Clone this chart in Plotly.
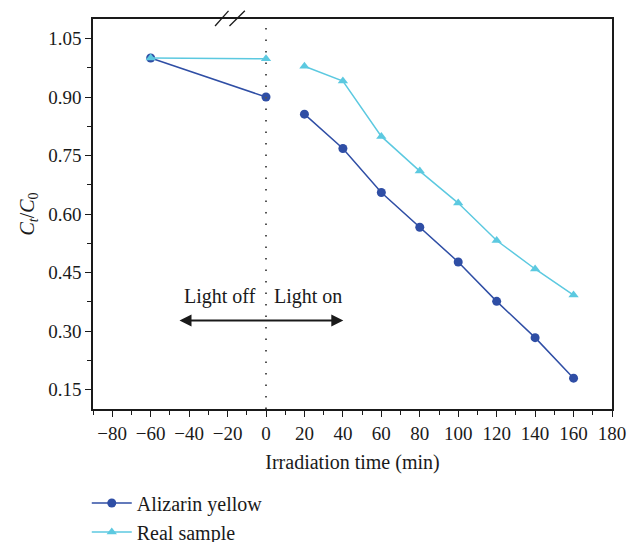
import plotly.graph_objects as go

# Data
dark_time = [-60, 0]
light_time = [20, 40, 60, 80, 100, 120, 140, 160]
alizarin_dark = [1.00, 0.90]
alizarin_light = [0.856, 0.768, 0.655, 0.566, 0.477, 0.376, 0.283, 0.179]
real_dark = [1.00, 0.998]
real_light = [0.979, 0.941, 0.799, 0.710, 0.628, 0.532, 0.459, 0.392]
x_ticks = [-80, -60, -40, -20, 0, 20, 40, 60, 80, 100, 120, 140, 160, 180]
y_ticks = [0.15, 0.30, 0.45, 0.60, 0.75, 0.90, 1.05]

C_AL = "#2F4EA5"
C_RS = "#5CC9E0"
FONT = "Liberation Serif"
FS = 19

fig = go.Figure()
for name, color, sym, size, yd, yl in [
    ("Alizarin yellow", C_AL, "circle", 9, alizarin_dark, alizarin_light),
    ("Real sample", C_RS, "triangle-up", 9, real_dark, real_light),
]:
    fig.add_trace(go.Scatter(x=dark_time, y=yd, mode="lines+markers", name=name,
                             legendgroup=name, showlegend=True,
                             line=dict(color=color, width=1.5),
                             marker=dict(symbol=sym, size=size, color=color)))
    fig.add_trace(go.Scatter(x=light_time, y=yl, mode="lines+markers", name=name,
                             legendgroup=name, showlegend=False,
                             line=dict(color=color, width=1.5),
                             marker=dict(symbol=sym, size=size, color=color)))

# dotted vertical line at light on
fig.add_shape(type="line", x0=0, x1=0, y0=0, y1=1, xref="x", yref="y domain",
              line=dict(color="#555555", width=2, dash="1.5px,10px"))

# double-headed arrow
fig.add_annotation(x=-45, y=0.327, ax=41, ay=0.327, xref="x", yref="y", axref="x", ayref="y",
                   showarrow=True, arrowhead=2, arrowside="end+start", arrowsize=1.2,
                   arrowwidth=2, arrowcolor="#1a1a1a", text="")
fig.add_annotation(x=-4, y=0.388, xref="x", yref="y", text="Light off", showarrow=False,
                   xanchor="right", font=dict(family=FONT, size=20, color="#1a1a1a"))
fig.add_annotation(x=3, y=0.388, xref="x", yref="y", text="Light on", showarrow=False,
                   xanchor="left", font=dict(family=FONT, size=20, color="#1a1a1a"))

# axis break marks at top
for xa, xb in [(-26.5, -19.5), (-19.0, -11.0)]:
    fig.add_shape(type="line", x0=xa, x1=xb, y0=0.982, y1=1.021, xref="x", yref="y domain",
                  line=dict(color="#1a1a1a", width=1.3))

fig.update_layout(
    width=629, height=542,
    margin=dict(l=93, r=17, t=19, b=133, autoexpand=False),
    paper_bgcolor="white", plot_bgcolor="white",
    font=dict(family=FONT, size=FS, color="#1a1a1a"),
    legend=dict(x=-0.012, y=0.108, xref="paper", yref="container", xanchor="left", yanchor="top",
                orientation="v", font=dict(family=FONT, size=20), itemwidth=40, tracegroupgap=0,
                bgcolor="rgba(0,0,0,0)"),
    xaxis=dict(range=[-90, 180], tickvals=x_ticks, ticktext=[str(v).replace("-", "\u2212") for v in x_ticks],
               ticks="outside", ticklen=6, tickwidth=1.2, tickcolor="#1a1a1a", automargin=False,
               minor=dict(dtick=10, tick0=0, ticks="outside", ticklen=4, tickcolor="#1a1a1a"),
               showline=True, linecolor="#1a1a1a", linewidth=1.5, mirror=True,
               showgrid=False, zeroline=False,
               title=dict(text="Irradiation time (min)", font=dict(family=FONT, size=20), standoff=12)),
    yaxis=dict(range=[0.10, 1.10], tickvals=y_ticks, ticktext=[f"{v:.2f}" for v in y_ticks],
               ticks="outside", ticklen=6, tickwidth=1.2, tickcolor="#1a1a1a", automargin=False,
               minor=dict(dtick=0.075, tick0=0.15, ticks="outside", ticklen=4, tickcolor="#1a1a1a"),
               showline=True, linecolor="#1a1a1a", linewidth=1.5, mirror=True,
               showgrid=False, zeroline=False,
               title=dict(text="<i>C<sub>t</sub></i>/<i>C</i><sub>0</sub>", font=dict(family=FONT, size=20), standoff=8)),
)

fig.write_html("out.html", config={"displayModeBar": False},
               post_script="document.body.style.margin='0';")
